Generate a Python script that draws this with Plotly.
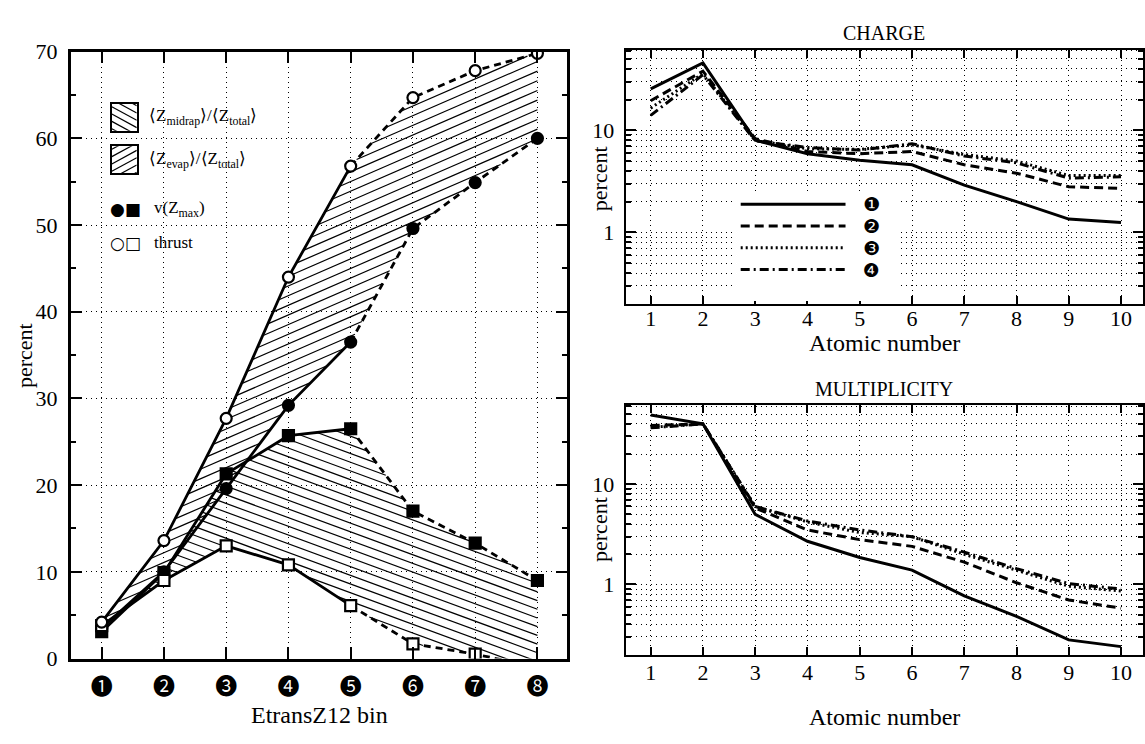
import numpy as np
import plotly.graph_objects as go

# ---------------- data: left panel ----------------
bins = [1, 2, 3, 4, 5, 6, 7, 8]
bin_labels = ["❶", "❷", "❸", "❹", "❺", "❻", "❼", "❽"]
vz_evap = [3.5, 10.0, 19.6, 29.2, 36.5, 49.6, 54.9, 60.0]        # filled circles
thrust_evap = [4.2, 13.6, 27.7, 44.0, 56.8, 64.7, 67.8, 69.8]    # open circles
vz_midrap = [3.1, 9.9, 21.3, 25.7, 26.5, 17.0, 13.3, 9.0]        # filled squares
thrust_midrap = [3.8, 9.0, 13.0, 10.8, 6.1, 1.7, 0.5, -1.0]      # open squares

region_labels = ["⟨Z<sub>midrap</sub>⟩/⟨Z<sub>total</sub>⟩",
                 "⟨Z<sub>evap</sub>⟩/⟨Z<sub>total</sub>⟩"]
marker_labels = ["v(Z<sub>max</sub>)", "thrust"]
marker_glyphs = ["●■", "○□"]

# ---------------- data: right panels ----------------
atomic_number = [1, 2, 3, 4, 5, 6, 7, 8, 9, 10]
series_names = ["❶", "❷", "❸", "❹"]
charge_1 = [25.5, 45.8, 8.0, 5.9, 5.1, 4.6, 2.9, 2.0, 1.35, 1.25]
charge_2 = [19.5, 38.0, 8.3, 6.2, 5.9, 6.2, 4.6, 3.8, 2.8, 2.7]
charge_3 = [16.5, 36.0, 8.0, 6.6, 6.5, 7.2, 5.8, 5.0, 3.6, 3.6]
charge_4 = [14.0, 35.0, 7.9, 6.8, 6.4, 7.4, 5.6, 4.8, 3.4, 3.5]
mult_1 = [49.0, 40.0, 5.0, 2.7, 1.86, 1.39, 0.77, 0.48, 0.28, 0.24]
mult_2 = [38.5, 40.0, 5.8, 3.5, 2.8, 2.4, 1.67, 1.04, 0.70, 0.58]
mult_3 = [37.0, 40.0, 6.0, 4.2, 3.3, 3.0, 2.0, 1.39, 0.96, 0.86]
mult_4 = [36.5, 40.0, 6.0, 4.3, 3.5, 3.0, 2.1, 1.44, 1.02, 0.90]

W, H = 1145, 744
SERIF = "Liberation Serif"
SYM = "DejaVu Sans"
CIRC = "Noto Sans CJK JP"
DOT = "1px,4px"

# left panel geometry (pixels) and ranges
L_X0, L_X1, L_Y0, L_Y1 = 70.7, 568.3, 41, 669
L_XR, L_YR = [0.5, 8.48], [0, 70]
PX_PER_BIN = (L_X1 - L_X0) / (L_XR[1] - L_XR[0])
PX_PER_PCT = (L_Y1 - L_Y0) / (L_YR[1] - L_YR[0])


def px(x):
    return x / W


def py(y):
    return 1 - y / H


def hatch_lines(series_a, series_b, slope_px, spacing_px):
    """Hatch segments (data coords) filling the band between two series."""
    slope = slope_px * PX_PER_BIN / PX_PER_PCT
    spacing = spacing_px / PX_PER_PCT
    xs = np.linspace(bins[0], bins[-1], 4001)
    a = np.interp(xs, bins, series_a)
    b = np.interp(xs, bins, series_b)
    lo, hi = np.minimum(a, b), np.maximum(a, b)
    base = slope * (xs - bins[0])
    X, Y = [], []
    for c in np.arange((lo - base).min(), (hi - base).max(), spacing):
        yl = c + base
        inside = ((yl >= lo) & (yl <= hi)).astype(int)
        edges = np.flatnonzero(np.diff(np.concatenate([[0], inside, [0]])))
        for s, e in zip(edges[::2], edges[1::2]):
            if e - 1 > s:
                X += [xs[s], xs[e - 1], None]
                Y += [yl[s], yl[e - 1], None]
    return X, Y


fig = go.Figure()

# ---------- hatched regions (left panel) ----------
HATCH_EVAP = dict(slope_px=0.45, spacing_px=10.0)     # "/" lines
HATCH_MIDRAP = dict(slope_px=-0.38, spacing_px=9.0)   # "\" lines
for sa, sb, hp in ((vz_evap, thrust_evap, HATCH_EVAP),
                   (thrust_midrap, vz_midrap, HATCH_MIDRAP)):
    hx, hy = hatch_lines(sa, sb, **hp)
    fig.add_trace(go.Scatter(x=hx, y=hy, mode="lines", line=dict(color="black", width=1.2),
                             showlegend=False, hoverinfo="skip"))

# ---------- lines: solid for bins 1-5, dashed for 5-8 ----------
for ys in (vz_evap, thrust_evap, vz_midrap, thrust_midrap):
    fig.add_trace(go.Scatter(x=bins[:5], y=ys[:5], mode="lines",
                             line=dict(color="black", width=2.8),
                             showlegend=False, hoverinfo="skip"))
    fig.add_trace(go.Scatter(x=bins[4:], y=ys[4:], mode="lines",
                             line=dict(color="black", width=2.8, dash="7px,5px"),
                             showlegend=False, hoverinfo="skip"))

# ---------- markers ----------
marker_specs = [
    (vz_midrap, "square", "black"),
    (vz_evap, "circle", "black"),
    (thrust_midrap, "square", "white"),
    (thrust_evap, "circle", "white"),
]
for ys, sym, col in marker_specs:
    fig.add_trace(go.Scatter(x=bins, y=ys, mode="markers", cliponaxis=True,
                             marker=dict(symbol=sym, size=11, color=col,
                                         line=dict(color="black", width=2.2)),
                             showlegend=False))

# ---------- legend swatches (left panel): small inset axes with hatch lines ----------
SWATCH_SLOPES = [-0.5, 0.5]          # midrap "\" , evap "/"
SWATCH_STEP = 0.27
swatch_axes = [("x4", "y4"), ("x5", "y5")]
for k, (xa, ya) in enumerate(swatch_axes):
    sx, sy = [], []
    for c in np.arange(-1.0, 2.0, SWATCH_STEP):
        sx += [0, 1, None]
        sy += [c, c + SWATCH_SLOPES[k], None]
    fig.add_trace(go.Scatter(x=sx, y=sy, mode="lines", xaxis=xa, yaxis=ya,
                             line=dict(color="black", width=1.2),
                             showlegend=False, hoverinfo="skip"))

# ---------- right panels ----------
dashes = ["solid", "9px,5px", "2px,3px", "9px,4px,2px,4px"]
charge = [charge_1, charge_2, charge_3, charge_4]
mult = [mult_1, mult_2, mult_3, mult_4]
for i in range(4):
    fig.add_trace(go.Scatter(x=atomic_number, y=charge[i], mode="lines", name=series_names[i],
                             line=dict(color="black", width=3, dash=dashes[i]),
                             xaxis="x2", yaxis="y2", showlegend=False))
for i in range(4):
    fig.add_trace(go.Scatter(x=atomic_number, y=mult[i], mode="lines", name=series_names[i],
                             line=dict(color="black", width=3, dash=dashes[i]),
                             xaxis="x3", yaxis="y3", showlegend=False))

axis_common = dict(showline=True, linecolor="black", mirror="ticks", ticks="inside",
                   tickcolor="black", showgrid=True, gridcolor="black", griddash=DOT,
                   gridwidth=1, zeroline=False)

minor_vals = [0.2, 0.3, 0.4, 0.5, 0.6, 0.7, 0.8, 0.9,
              2, 3, 4, 5, 6, 7, 8, 9, 20, 30, 40, 50, 60]

log_axis = dict(type="log", range=[-0.7, 1.79], tickmode="array", tickvals=[1, 10],
                ticktext=["1", "10"], ticklen=10, tickwidth=1.5, linewidth=2,
                tickfont=dict(family=SERIF, size=22, color="black"), ticklabelstandoff=5,
                minor=dict(tickmode="array", tickvals=minor_vals, ticks="inside", ticklen=5,
                           tickcolor="black", showgrid=True, gridcolor="black",
                           griddash=DOT, gridwidth=1),
                **axis_common)

an_axis = dict(range=[0.52, 10.42], tickmode="array", tickvals=atomic_number,
               ticklen=8, tickwidth=1.5, linewidth=2,
               tickfont=dict(family=SERIF, size=22, color="black"), **axis_common)

swatch_x = dict(domain=[px(112), px(137)], range=[0, 1], showline=True, mirror=True,
                linecolor="black", linewidth=1.8, showgrid=False, zeroline=False,
                showticklabels=False, ticks="", fixedrange=True)
swatch_y = dict(range=[0, 1], showline=True, mirror=True, linecolor="black", linewidth=1.8,
                showgrid=False, zeroline=False, showticklabels=False, ticks="",
                fixedrange=True)

fig.update_layout(
    width=W, height=H, margin=dict(l=0, r=0, t=0, b=0),
    paper_bgcolor="white", plot_bgcolor="white",
    font=dict(family=SERIF, color="black"),
    showlegend=False,
    xaxis=dict(domain=[px(L_X0), px(L_X1)], range=L_XR, anchor="y",
               tickmode="array", tickvals=bins, ticktext=bin_labels,
               tickfont=dict(family=CIRC, size=22, color="black"),
               ticklen=12, tickwidth=1.5, linewidth=2.5, ticklabelstandoff=6,
               **axis_common),
    yaxis=dict(domain=[py(L_Y1), py(L_Y0)], range=L_YR, anchor="x", dtick=10,
               tickfont=dict(family=SERIF, size=22, color="black"),
               ticklen=12, tickwidth=1.5, linewidth=2.5, ticklabelstandoff=6,
               minor=dict(dtick=5, ticks="inside", ticklen=6, tickcolor="black",
                          showgrid=False),
               **axis_common),
    xaxis2=dict(domain=[px(626.7), 1.0], anchor="y2", ticklabelstandoff=-6, **an_axis),
    yaxis2=dict(domain=[py(302), py(39)], anchor="x2", **log_axis),
    xaxis3=dict(domain=[px(626.7), 1.0], anchor="y3", ticklabelstandoff=-3, **an_axis),
    yaxis3=dict(domain=[py(665), py(406.7)], anchor="x3", **log_axis),
    xaxis4=dict(anchor="y4", **swatch_x),
    yaxis4=dict(domain=[py(123), py(95)], anchor="x4", **swatch_y),
    xaxis5=dict(anchor="y5", **swatch_x),
    yaxis5=dict(domain=[py(167), py(139)], anchor="x5", **swatch_y),
)

annots = []
shapes = []


def txt(x, y, text, size, angle=0, xanchor="center", family=SERIF):
    annots.append(dict(x=px(x), y=py(y), xref="paper", yref="paper", text=text,
                       showarrow=False, textangle=angle, xanchor=xanchor,
                       yanchor="middle", font=dict(family=family, size=size, color="black")))


# axis titles
txt(24, 355, "percent", 22, angle=-90)
txt(320, 727, "EtransZ12 bin", 24)
txt(886, 22, "CHARGE", 20)
txt(600, 172, "percent", 22, angle=-90)
txt(886, 343, "Atomic number", 24)
txt(886, 390, "MULTIPLICITY", 20)
txt(600, 535, "percent", 22, angle=-90)
txt(886, 730, "Atomic number", 24)

# left legend texts
LL_TEXT_X = 147
LL_ROWS = [109, 153, 204, 239]
txt(LL_TEXT_X, LL_ROWS[0], region_labels[0], 17, xanchor="left")
txt(LL_TEXT_X, LL_ROWS[1], region_labels[1], 17, xanchor="left")
for k in range(2):
    txt(108, LL_ROWS[2 + k], marker_glyphs[k], 17, xanchor="left", family=SYM)
    txt(LL_TEXT_X + 5, LL_ROWS[2 + k], marker_labels[k], 17, xanchor="left")

# right legend (CHARGE panel): white box, line samples and circled labels
RL_X0, RL_X1, RL_Y0, RL_DY, RL_LABEL_X = 742, 847, 199, 22.5, 873
shapes.append(dict(type="rect", xref="paper", yref="paper", x0=px(737), x1=px(900),
                   y0=py(299), y1=py(187), fillcolor="white", line=dict(width=0),
                   layer="above"))
for i, name in enumerate(series_names):
    yy = RL_Y0 + i * RL_DY
    shapes.append(dict(type="line", xref="paper", yref="paper", x0=px(RL_X0), x1=px(RL_X1),
                       y0=py(yy), y1=py(yy), layer="above",
                       line=dict(color="black", width=3, dash=dashes[i])))
    txt(RL_LABEL_X, yy, name, 19, family=SYM)

fig.update_layout(annotations=annots, shapes=shapes)

fig.write_html("out.html")
